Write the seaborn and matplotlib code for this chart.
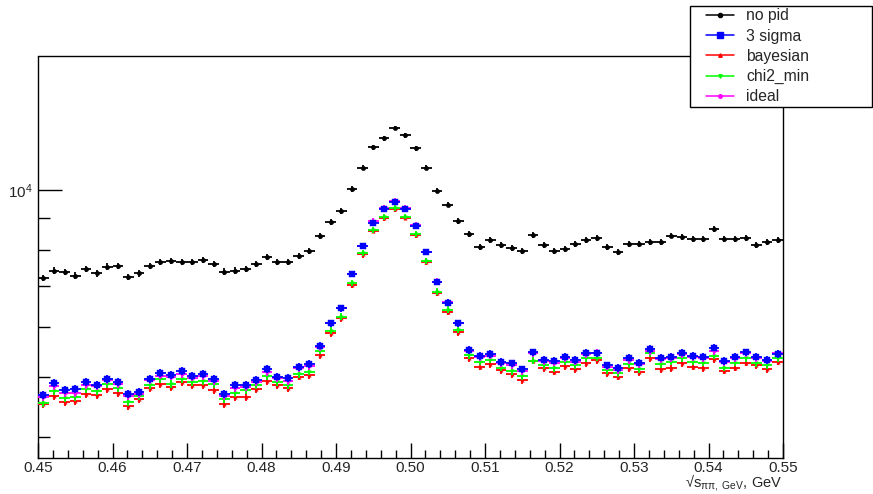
import numpy as np
import pandas as pd
import seaborn as sns
import matplotlib
matplotlib.use("Agg")
import matplotlib.pyplot as plt
from matplotlib.lines import Line2D
from matplotlib.patches import Rectangle
from matplotlib.ticker import FixedLocator, FuncFormatter, NullFormatter, MultipleLocator

# ---------------- data ----------------
x_min, x_max, n_bins = 0.45, 0.55, 70

no_pid = [7205, 7410, 7366, 7274, 7457, 7333, 7521, 7541, 7231, 7333,
          7541, 7646, 7674, 7646, 7654, 7711, 7589, 7383, 7410, 7457,
          7603, 7783, 7649, 7640, 7832, 7982, 8421, 8880, 9240, 10037,
          10852, 11718, 12117, 12575, 12235, 11675, 10852, 9974, 9469, 8913,
          8484, 8083, 8306, 8153, 8055, 7957, 8446, 8159, 7978, 8040,
          8190, 8296, 8374, 8101, 7936, 8173, 8168, 8235, 8229, 8440,
          8392, 8326, 8326, 8642, 8326, 8329, 8374, 8153, 8235, 8290]

sigma3 = [4670, 4878, 4753, 4776, 4901, 4847, 4956, 4901, 4688, 4718,
          4956, 5062, 5030, 5106, 5012, 5049, 4956, 4688, 4847, 4847,
          4932, 5144, 4999, 4969, 5177, 5235, 5604, 6095, 6445, 7311,
          8123, 8857, 9318, 9575, 9318, 8749, 7936, 7099, 6580, 6095,
          5521, 5399, 5439, 5280, 5254, 5133, 5470, 5325, 5303, 5385,
          5319, 5466, 5448, 5215, 5163, 5364, 5266, 5537, 5364, 5385,
          5466, 5399, 5385, 5568, 5299, 5385, 5474, 5385, 5319, 5439]

bayesian = [4517, 4659, 4546, 4574, 4683, 4676, 4781, 4706, 4489, 4602,
            4798, 4866, 4805, 4896, 4847, 4847, 4758, 4517, 4641, 4641,
            4781, 4925, 4847, 4788, 4999, 5030, 5420, 5873, 6209, 7028,
            7867, 8597, 9001, 9307, 9021, 8463, 7663, 6830, 6365, 5895,
            5347, 5188, 5241, 5116, 5039, 4938, 5305, 5157, 5093, 5202,
            5139, 5254, 5319, 5062, 4999, 5157, 5081, 5352, 5144, 5157,
            5254, 5188, 5157, 5339, 5111, 5169, 5266, 5215, 5139, 5286]

chi2_min = [4539, 4735, 4624, 4641, 4770, 4741, 4860, 4788, 4551, 4659,
            4842, 4956, 4866, 4956, 4901, 4925, 4866, 4597, 4700, 4753,
            4847, 5012, 4907, 4842, 5049, 5093, 5507, 5930, 6246, 7073,
            7906, 8620, 9036, 9343, 9056, 8494, 7683, 6855, 6405, 5946,
            5413, 5286, 5325, 5167, 5101, 5015, 5305, 5221, 5157, 5286,
            5221, 5352, 5364, 5125, 5062, 5235, 5139, 5454, 5241, 5286,
            5352, 5286, 5266, 5405, 5169, 5266, 5347, 5254, 5221, 5352]

ideal = [4641, 4834, 4700, 4700, 4847, 4834, 4932, 4866, 4659, 4688,
         4932, 5017, 4999, 5049, 4981, 5012, 4914, 4659, 4798, 4805,
         4901, 5081, 4975, 4925, 5157, 5202, 5577, 6095, 6445, 7311,
         8132, 8913, 9343, 9610, 9343, 8782, 7953, 7115, 6590, 6095,
         5505, 5373, 5405, 5254, 5221, 5101, 5454, 5299, 5266, 5352,
         5286, 5433, 5466, 5188, 5125, 5319, 5241, 5500, 5333, 5352,
         5439, 5373, 5352, 5500, 5274, 5352, 5454, 5352, 5305, 5454]

series_names = ["no pid", "3 sigma", "bayesian", "chi2_min", "ideal"]
series_values = [no_pid, sigma3, bayesian, chi2_min, ideal]
x_ticks = [0.45, 0.46, 0.47, 0.48, 0.49, 0.50, 0.51, 0.52, 0.53, 0.54, 0.55]
x_title = "√$\\mathregular{s_{ππ,\\ GeV}}$, GeV"

# ---------------- style ----------------
W, H = 873, 494
sns.set_theme(style="white")
plt.rcParams["font.family"] = ["Liberation Sans", "DejaVu Sans"]
plt.rcParams["mathtext.fontset"] = "custom"
plt.rcParams["mathtext.rm"] = "Liberation Sans"
plt.rcParams["mathtext.it"] = "Liberation Sans:italic"
plt.rcParams["mathtext.default"] = "regular"

colors = ["black", "#0000ff", "#ff0000", "#00ff00", "#ff00ff"]
markers = ["o", "s", "^", "v", "o"]
msizes = [10, 24, 6, 6, 6]
# drawing order (z): black, ideal, bayesian, chi2, then 3 sigma on top
zorders = [2, 10, 4, 5, 6]

fig = plt.figure(figsize=(W / 100, H / 100), dpi=100)
fig.patch.set_facecolor("white")
ax = fig.add_axes([38 / W, 1 - 458 / H, (783 - 38) / W, (458 - 56.5) / H])
ax.set_facecolor("white")
ax.set_yscale("log")

edges = np.linspace(x_min, x_max, n_bins + 1)
centers = 0.5 * (edges[:-1] + edges[1:])
half = 0.5 * (edges[1] - edges[0])

rows = []
for name, vals in zip(series_names, series_values):
    for c, v in zip(centers, vals):
        rows.append({"series": name, "x": c, "y": v})
df = pd.DataFrame(rows)

for name, col, mk, ms, z in zip(series_names, colors, markers, msizes, zorders):
    d = df[df["series"] == name]
    ax.errorbar(d["x"], d["y"], xerr=half, yerr=np.sqrt(d["y"]), fmt="none",
                ecolor=col, elinewidth=1.3, capsize=0, zorder=z)
    sns.scatterplot(data=d, x="x", y="y", marker=mk, s=ms, color=col,
                    edgecolor=col, linewidth=0.3, ax=ax, zorder=z + 0.5, legend=False)

ax.set_xlim(x_min, x_max)
ax.set_ylim(3696, 16400)

# ticks
ax.xaxis.set_major_locator(FixedLocator(x_ticks))
ax.xaxis.set_major_formatter(FuncFormatter(lambda v, p: f"{v:.2f}"))
ax.xaxis.set_minor_locator(MultipleLocator(0.002))
ax.yaxis.set_major_locator(FixedLocator([1e4]))
ax.yaxis.set_major_formatter(FuncFormatter(lambda v, p: r"$\mathregular{10^{4}}$"))
ax.yaxis.set_minor_locator(FixedLocator([4000, 5000, 6000, 7000, 8000, 9000]))
ax.yaxis.set_minor_formatter(NullFormatter())

ax.tick_params(axis="x", which="major", direction="in", length=11, width=1.0,
               color="black", labelsize=11, pad=2.5, bottom=True, top=False)
ax.tick_params(axis="x", which="minor", direction="in", length=5.5, width=1.0,
               color="black", bottom=True, top=False)
ax.tick_params(axis="y", which="major", direction="in", length=17, width=1.0,
               color="black", labelsize=11, pad=4, left=True, right=False)
ax.tick_params(axis="y", which="minor", direction="in", length=8.5, width=1.0,
               color="black", left=True, right=False)

for s in ax.spines.values():
    s.set_visible(True)
    s.set_color("black")
    s.set_linewidth(1.0)

ax.set_ylabel("")
ax.set_xlabel("")
fig.text(782 / W, 1 - 493 / H, x_title, fontsize=10.5, ha="right", va="bottom")

# legend box
rect = Rectangle((690 / W, 1 - 107 / H), (872 - 690) / W, (107 - 6) / H,
                 transform=fig.transFigure, facecolor="white", edgecolor="black",
                 linewidth=1.0, zorder=10)
fig.patches.append(rect)
handles = [Line2D([0], [0], color=c, lw=1.1, marker=m, markersize=ms_,
                  markerfacecolor=c, markeredgecolor=c)
           for c, m, ms_ in zip(colors, markers, [3, 4.5, 2.5, 2.5, 2.5])]
leg = fig.legend(handles, series_names, loc="upper left",
                 bbox_to_anchor=(706 / W, 1 - 8.5 / H), frameon=False,
                 fontsize=11.3, handlelength=1.8, handletextpad=0.75,
                 labelspacing=0.33, borderpad=0, borderaxespad=0)
leg.set_zorder(11)

fig.savefig("out.png", dpi=100, facecolor="white")
